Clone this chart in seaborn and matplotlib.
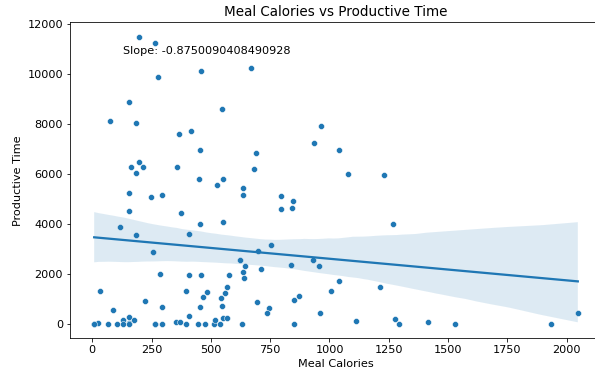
import matplotlib
matplotlib.use("Agg")
import matplotlib.pyplot as plt
import seaborn as sns
import pandas as pd

meal_calories = [
    195, 265, 276, 459, 668, 155, 74, 186, 547, 365, 418, 453, 691, 680, 357, 165,
    196, 213, 186, 966, 935, 1042, 1079, 1230,
    451, 525, 549, 637, 634, 796, 845, 796, 841, 155, 247, 296, 155, 374, 455, 117,
    186, 407, 549, 1267, 256, 755, 699, 621, 644, 634, 640, 712, 837, 930, 955, 285,
    406, 457, 577, 568, 560, 483, 397, 33, 465, 543, 224, 88, 296, 454, 547, 695,
    747, 736, 852, 872, 1007, 1041, 1215, 958, 1111, 1277, 1291, 1417, 1528, 1933, 2047,
    408, 130, 155, 175, 155, 8, 26, 67, 103, 130, 153, 265, 294, 353, 368, 397,
    444, 474, 514, 519, 538, 549, 568, 632, 850, 8, 265,
]
productive_time = [
    11480, 11210, 9880, 10120, 10230, 8860, 8100, 8020, 8580, 7610, 7710, 6950, 6830, 6180, 6290, 6290,
    6470, 6290, 6030, 7900, 7250, 6970, 6000, 5960,
    5790, 5550, 5790, 5430, 5140, 5110, 4910, 4590, 4630, 5220, 5090, 5170, 4510, 4450, 4000, 3880,
    3560, 3580, 4080, 4000, 2880, 3140, 2930, 2570, 2320, 2090, 1830, 2190, 2350, 2570, 2320, 2010,
    1960, 1960, 1960, 1470, 1230, 1280, 1310, 1310, 1080, 1040, 920, 575, 680, 680, 710, 870,
    630, 455, 950, 1110, 1310, 1720, 1480, 430, 100, 215, 0, 70, 0, 0, 430,
    320, 175, 270, 160, 55, 0, 30, 15, 0, 0, 0, 0, 0, 95, 70, 0,
    0, 0, 0, 160, 0, 240, 240, 0, 0, 0, 0,
]

title_text = "Meal Calories vs Productive Time"
slope_text = "Slope: -0.8750090408490928"

df = pd.DataFrame({"Meal Calories": meal_calories, "Productive Time": productive_time})

k = 1.13
plt.rcParams.update({
    "font.size": 10 * k,
    "axes.titlesize": 12 * k,
    "axes.labelsize": 10 * k,
    "xtick.labelsize": 10 * k,
    "ytick.labelsize": 10 * k,
})

W, H, DPI = 595, 375, 72
fig = plt.figure(figsize=(W / DPI, H / DPI), dpi=DPI)
ax = fig.add_axes([70 / W, (H - 338.3) / H, 532 / W, 316 / H])

sns.scatterplot(data=df, x="Meal Calories", y="Productive Time", ax=ax, color="#1f77b4")
sns.regplot(data=df, x="Meal Calories", y="Productive Time", ax=ax, scatter=False,
            color="#1f77b4", seed=17)

ax.set_title(title_text)
ax.annotate(slope_text, xy=(0.1, 0.9), xycoords="axes fraction")

fig.savefig("out.png", dpi=DPI)
